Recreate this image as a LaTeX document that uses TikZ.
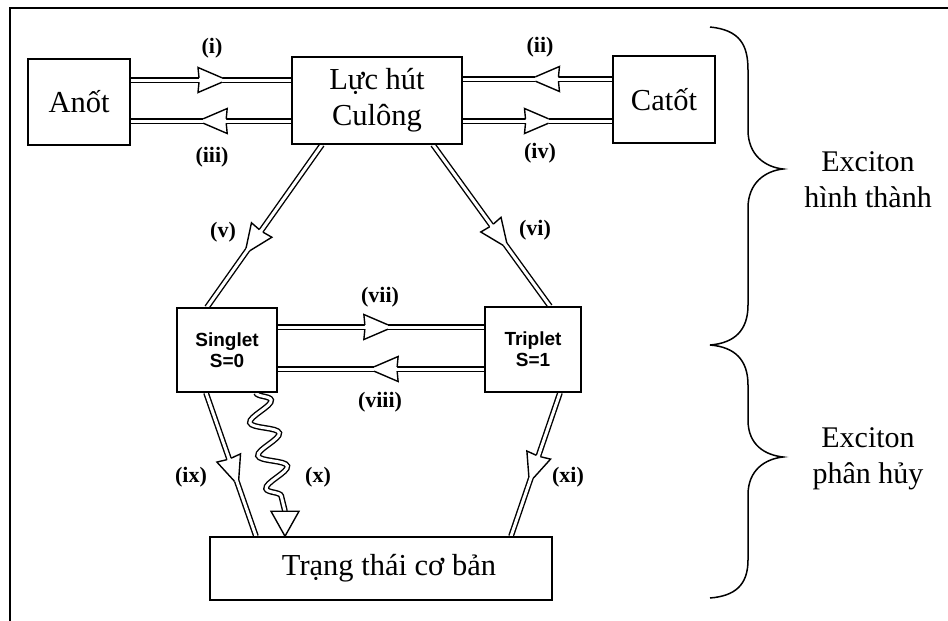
\documentclass[tikz,border=0pt]{standalone}
\usepackage{fontspec}
\setmainfont{Liberation Serif}
\newfontfamily\arialfont{Liberation Sans}
\usetikzlibrary{calc,positioning,backgrounds,decorations.pathmorphing}

\tikzset{
  box/.style={draw, fill=white, line width=1.5pt, inner sep=0pt, align=center,
    font=\fontsize{30.5}{36}\selectfont},
  smallbox/.style={box, font=\arialfont\bfseries\fontsize{19}{21}\selectfont},
  tag/.style={font=\bfseries\fontsize{22}{24}\selectfont},
  flow/.style={double, double distance=3pt, line width=1.4pt},
  barb/.pic={
    \fill[white] (-12pt,2.8pt) -- (-13pt,12.5pt) -- (11pt,2.8pt) -- (11pt,-2.8pt) -- (-13pt,-12.5pt) -- (-12pt,-2.8pt) -- cycle;
    \draw[line width=1.4pt] (-12pt,2.2pt) -- (-13pt,12.5pt) -- (11pt,2.2pt)
      (-12pt,-2.2pt) -- (-13pt,-12.5pt) -- (11pt,-2.2pt);
  },
}

\begin{document}
\begin{tikzpicture}[x=1pt, y=-1pt]
  \useasboundingbox (0,0) rectangle (948,621);

  % Frame
  \draw[line width=1.2pt] (10,621) -- (10,8) -- (948,8);

  % Boxes
  \node[box, minimum width=102pt, minimum height=86pt] (anot) at (79,102) {Anốt};
  \node[box, minimum width=170pt, minimum height=87pt] (culong) at (377,100.5) {Lực hút\\Culông};
  \node[box, minimum width=102pt, minimum height=87pt] (catot) at (664,99.5) {Catốt};
  \node[smallbox, minimum width=100pt, minimum height=84pt] (singlet) at (227,350) {Singlet\\S=0};
  \node[smallbox, minimum width=96pt, minimum height=85pt] (triplet) at (533,349.5) {Triplet\\S=1};
  \node[box, minimum width=342pt, minimum height=63pt] (coban) at (381,568.5) {\hspace*{16pt}Trạng thái cơ bản};

  % End points of the channels
  \coordinate (i-a) at ([yshift=22pt]anot.east);
  \coordinate (i-b) at (i-a -| culong.west);
  \coordinate (iii-a) at ([yshift=-19pt]anot.east -| culong.west);
  \coordinate (iii-b) at ([yshift=-19pt]anot.east);
  \coordinate (ii-a) at ([yshift=20.5pt]catot.west);
  \coordinate (ii-b) at (ii-a -| culong.east);
  \coordinate (iv-a) at ([yshift=-21.5pt]catot.west -| culong.east);
  \coordinate (iv-b) at ([yshift=-21.5pt]catot.west);
  \coordinate (v-a) at ([xshift=-55pt]culong.south);
  \coordinate (v-b) at ([xshift=-20pt]singlet.north);
  \coordinate (vi-a) at ([xshift=56pt]culong.south);
  \coordinate (vi-b) at ([xshift=17pt]triplet.north);
  \coordinate (vii-a) at ([yshift=23pt]singlet.east);
  \coordinate (vii-b) at (vii-a -| triplet.west);
  \coordinate (viii-a) at ([yshift=-19pt]singlet.east -| triplet.west);
  \coordinate (viii-b) at ([yshift=-19pt]singlet.east);
  \coordinate (ix-a) at ([xshift=-21pt]singlet.south);
  \coordinate (ix-b) at ([xshift=-125pt]coban.north);
  \coordinate (xi-a) at ([xshift=27pt]triplet.south);
  \coordinate (xi-b) at ([xshift=130pt]coban.north);
  \coordinate (x-a) at ([xshift=29pt]singlet.south);
  \coordinate (x-b) at ([xshift=-96pt]coban.north);
  \coordinate (x-h) at ([yshift=25pt]x-b);

  % Channels
  \begin{scope}[on background layer]
    \foreach \a/\b/\p in {i-a/i-b/0.5, iii-a/iii-b/0.48, ii-a/ii-b/0.44, iv-a/iv-b/0.5,
        v-a/v-b/0.59, vi-a/vi-b/0.56, vii-a/vii-b/0.48, viii-a/viii-b/0.48,
        ix-a/ix-b/0.54, xi-a/xi-b/0.52} {
      \draw[flow] (\a) -- (\b);
      \path (\a) -- (\b) pic[pos=\p, sloped, allow upside down]{barb};
    }
    % Wavy channel (x)
    \draw[flow, decorate, decoration={snake, amplitude=13pt, segment length=34pt, post length=6pt}]
      (x-a) -- (x-h);
    \filldraw[fill=white, line width=1.4pt] ([xshift=-14pt]x-h) -- (x-b) -- ([xshift=14pt]x-h) -- cycle;
  \end{scope}

  % Channel labels
  \node[tag] (l-i) at (212,48) {(i)};
  \node[tag] (l-ii) at (540,47) {(ii)};
  \node[tag] (l-iii) at (212,157) {(iii)};
  \node[tag] (l-iv) at (540,153) {(iv)};
  \node[tag] (l-v) at (223,232) {(v)};
  \node[tag] (l-vi) at (535,230) {(vi)};
  \node[tag] (l-vii) at (380,297) {(vii)};
  \node[tag] (l-viii) at (380,402) {(viii)};
  \node[tag] (l-ix) at (191,477) {(ix)};
  \node[tag] (l-x) at (318,477) {(x)};
  \node[tag] (l-xi) at (568,477) {(xi)};

  % Braces
  \draw[line width=1.5pt]
    (710,27) .. controls (740,30) and (748,45) .. (748,70) -- (748,130)
    .. controls (748,155) and (765,167) .. (783,169)
    .. controls (765,171) and (748,183) .. (748,208) -- (748,305)
    .. controls (748,330) and (735,343) .. (710,345);
  \draw[line width=1.5pt]
    (710,345) .. controls (735,347) and (748,360) .. (748,385) -- (748,420)
    .. controls (748,445) and (765,455) .. (783,457)
    .. controls (765,459) and (748,470) .. (748,495) -- (748,560)
    .. controls (748,585) and (735,596) .. (710,598);
  \node[font=\fontsize{30}{36}\selectfont, align=center] (formed) at (868,180) {Exciton\\hình thành};
  \node[font=\fontsize{30}{36}\selectfont, align=center] (decayed) at (868,459) {Exciton\\phân hủy};
\end{tikzpicture}
\end{document}
